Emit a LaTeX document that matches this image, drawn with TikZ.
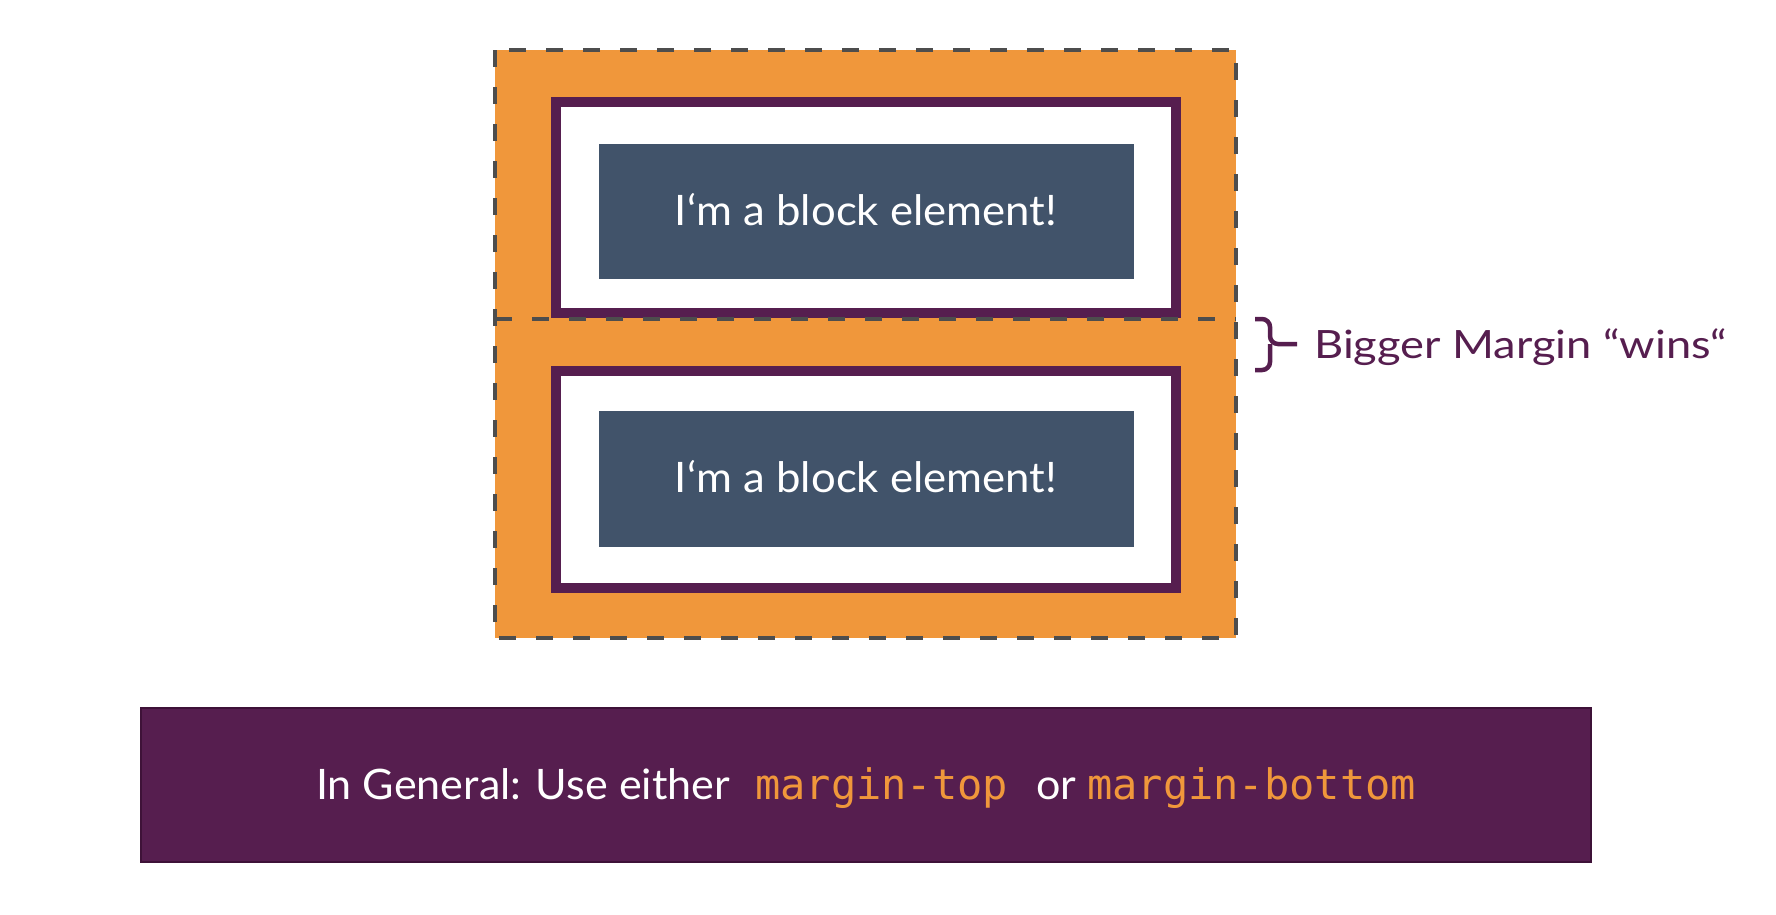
\documentclass[tikz,border=0pt]{standalone}
\usepackage{fontspec}
\setmainfont{Lato}
\newfontfamily\blockfont[FakeStretch=1.04]{Lato}
\newfontfamily\labelfont[FakeStretch=1.16]{Lato}
\newfontfamily\barfont[FakeStretch=1.025]{Lato}
\newfontfamily\codefont{DejaVu Sans Mono}
\definecolor{orng}{HTML}{F0973B}
\definecolor{purp}{HTML}{561E4F}
\definecolor{purpdark}{HTML}{3E1238}
\definecolor{slate}{HTML}{41536A}
\definecolor{dashgray}{HTML}{4D4D4D}
\tikzset{
  marginbox/.style={fill=orng},
  dashline/.style={draw=dashgray, line width=4.5pt, dash pattern=on 17pt off 20pt},
  borderbox/.style={draw=purp, fill=white, line width=10pt},
  contentbox/.style={fill=slate},
  blocktext/.style={text=white, font=\blockfont\fontsize{42}{42}\selectfont, inner sep=0pt, anchor=base},
  bartext/.style={text=white, font=\barfont\fontsize{42}{42}\selectfont, inner sep=0pt, anchor=base west},
  codetext/.style={text=orng, font=\codefont\fontsize{42}{42}\selectfont, inner sep=0pt, anchor=base west},
  bracestyle/.style={draw=purp, line width=4.5pt, rounded corners=8pt},
  labeltext/.style={text=purp, font=\labelfont\fontsize{39}{39}\selectfont, inner sep=0pt, anchor=base west},
}
\begin{document}
\begin{tikzpicture}[x=1pt,y=-1pt]
\useasboundingbox (0,0) rectangle (1776,914);
% margin area
\fill[marginbox] (495,50) rectangle (1236,638);
% boxes
\draw[borderbox] (556,102) rectangle (1176,313);
\draw[borderbox] (556,371) rectangle (1176,588);
\fill[contentbox] (599,144) rectangle (1134,279);
\fill[contentbox] (599,411) rectangle (1134,547);
\node[blocktext] (t1) at (866,225) {I‘m a block element!};
\node[blocktext] (t2) at (866,492) {I‘m a block element!};
% dashed outlines
\draw[dashline] (495,50) rectangle (1236,638);
\draw[dashline] (495,319) -- (1236,319);
% brace
\draw[bracestyle] (1255,319) -- (1270,319) -- (1270,344) -- (1297,344);
\draw[bracestyle] (1255,370) -- (1270,370) -- (1270,344);
\node[labeltext] (lbl) at (1314,358) {Bigger Margin “wins“};
% bottom bar
\fill[purp] (141,708) rectangle (1591,862);
\draw[purpdark, line width=1.5pt] (141,708) rectangle (1591,862);
\node[bartext] (b1) at (316,799) {In General: Use either};
\node[codetext] (b2) at (755,799) {margin-top};
\node[bartext] (b3) at (1036,799) {or};
\node[codetext] (b4) at (1087,799) {margin-bottom};
\end{tikzpicture}
\end{document}
